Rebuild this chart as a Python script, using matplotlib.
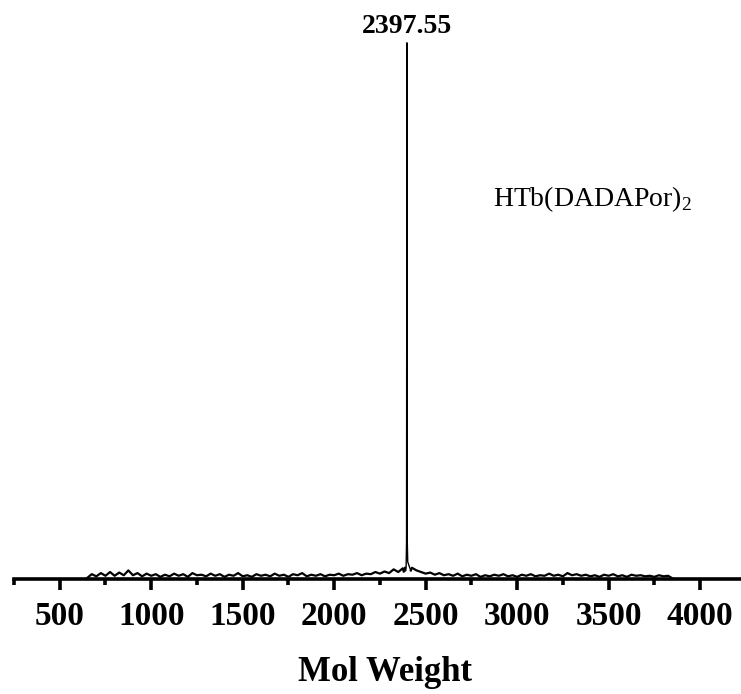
import numpy as np
import matplotlib
matplotlib.use("Agg")
import matplotlib.pyplot as plt

plt.rcParams['font.family'] = ['Liberation Serif', 'DejaVu Serif']

# ---- data (relative intensity, peak = 100) ----
left_mass = np.arange(650, 2376, 25)
left_int = [0.2, 0.9, 0.5, 1.1, 0.6, 1.3, 0.6, 1.2, 0.7, 1.6,
            0.7, 1.1, 0.5, 1.0, 0.6, 0.9, 0.4, 0.8, 0.5, 1.0,
            0.6, 0.9, 0.4, 1.1, 0.7, 0.8, 0.5, 1.0, 0.6, 0.9,
            0.4, 0.8, 0.6, 1.1, 0.5, 0.7, 0.4, 0.9, 0.6, 0.8,
            0.5, 1.0, 0.6, 0.8, 0.4, 0.9, 0.7, 1.1, 0.5, 0.8,
            0.6, 0.9, 0.5, 0.8, 0.7, 1.0, 0.6, 0.9, 0.8, 1.1,
            0.7, 1.0, 0.9, 1.3, 1.0, 1.4, 1.1, 1.8, 1.3, 2.0]

peak_mass = [2380, 2386, 2390, 2393, 2395.5, 2397.55, 2399.5, 2402, 2405, 2409, 2414, 2419]
peak_int = [1.4, 2.2, 1.5, 2.0, 7.0, 100.0, 7.0, 3.2, 2.9, 2.5, 2.0, 1.6]

right_mass = np.arange(2425, 3851, 25)
right_int = [2.1, 1.6, 1.3, 1.0, 1.2, 0.8, 1.1, 0.7, 0.9, 0.6,
             1.0, 0.5, 0.8, 0.6, 0.9, 0.4, 0.7, 0.5, 0.8, 0.6,
             0.9, 0.5, 0.7, 0.4, 0.8, 0.6, 0.9, 0.5, 0.7, 0.6,
             1.0, 0.6, 0.8, 0.5, 1.1, 0.7, 0.9, 0.6, 0.8, 0.5,
             0.7, 0.4, 0.8, 0.6, 0.9, 0.5, 0.7, 0.4, 0.8, 0.6,
             0.7, 0.5, 0.6, 0.4, 0.7, 0.5, 0.6, 0.1]

peak_label = "2397.55"
peak_pos = 2397.55
compound = r"HTb(DADAPor)$_\mathregular{2}$"
xlabel = "Mol Weight"
major_ticks = [500, 1000, 1500, 2000, 2500, 3000, 3500, 4000]
minor_ticks = [250, 750, 1250, 1750, 2250, 2750, 3250, 3750]

W, H = 741, 694
fig = plt.figure(figsize=(W / 100, H / 100), dpi=100)
ax = fig.add_axes([14 / W, (H - 579) / H, (755 - 14) / W, (579 - 16) / H])

# baseline noise (thicker) and peak region (thin)
ax.plot(np.concatenate([left_mass, peak_mass[:1]]), left_int + peak_int[:1],
        color='black', lw=1.6, clip_on=False)
ax.plot(peak_mass, peak_int, color='black', lw=1.0, clip_on=False)
ax.plot(np.concatenate([peak_mass[-1:], right_mass]), peak_int[-1:] + right_int,
        color='black', lw=1.6, clip_on=False)
ax.set_xlim(250, 4300)
ax.set_ylim(0, 105)

for s in ['left', 'right', 'top']:
    ax.spines[s].set_visible(False)
ax.spines['bottom'].set_linewidth(2.6)
ax.spines['bottom'].set_zorder(3)
ax.set_yticks([])
ax.set_xticks(major_ticks)
ax.set_xticks(minor_ticks, minor=True)
ax.tick_params(axis='x', which='major', direction='out', length=8, width=2.6, pad=8)
ax.tick_params(axis='x', which='minor', direction='out', length=4, width=2.6)
for lab in ax.get_xticklabels():
    lab.set_fontsize(24)
    lab.set_fontweight('bold')

ax.set_xlabel(xlabel, fontsize=25, fontweight='bold', labelpad=17)

ax.text(peak_pos, 100.8, peak_label, ha='center', va='bottom',
        fontsize=20, fontweight='bold')
ax.text(2867, 69.6, compound, ha='left', va='baseline', fontsize=20)

fig.savefig('out.png', dpi=100)
